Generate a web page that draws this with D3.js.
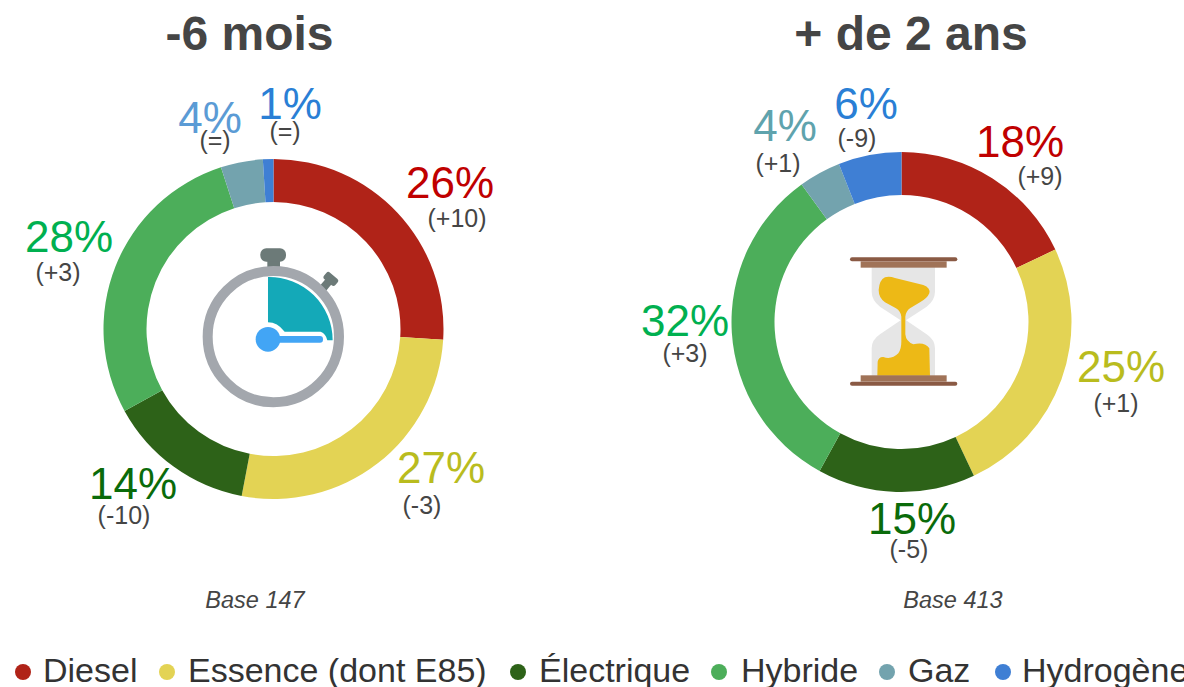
<!DOCTYPE html>
<html lang="fr"><head><meta charset="utf-8">
<script src="https://cdn.jsdelivr.net/npm/d3@7"></script>
<style>html,body{margin:0;padding:0;background:#fff;overflow:hidden}svg{display:block;font-family:"Liberation Sans",Arial,sans-serif}</style>
</head><body><svg id="c" width="1184" height="687"></svg>
<script>
const categories=["Diesel","Essence (dont E85)","Électrique","Hybride","Gaz","Hydrogène"];
const sliceColors=["#b02318","#e3d354","#2d6218","#4cae5a","#73a3ae","#3f7fd4"];
const titles=["-6 mois","+ de 2 ans"];
const bases=["Base 147","Base 413"];
const valuesShort=[26,27,14,28,4,1];
const valuesLong=[18,25,15,32,4,6];
const deltasShort=["(+10)","(-3)","(-10)","(+3)","(=)","(=)"];
const deltasLong=["(+9)","(+1)","(-5)","(+3)","(+1)","(-9)"];
const labelColorsShort=["#c00000","#b9bc1e","#0a6b0a","#00b050","#5b9bd5","#2a7fd5"];
const labelColorsLong=["#c00000","#b9bc1e","#0a6b0a","#00b050","#5fa3ad","#2a7fd5"];

// layout only
const panels=[
 {cx:273.5,cy:329,tx:249.5,bx:255,
  pct:[[450,198],[441,483],[133,499],[69,252],[210,133],[290,119]],
  del:[[457,227],[422,514],[124,524],[58,281],[215,149],[285,140]],
  values:valuesShort,deltas:deltasShort,colors:labelColorsShort},
 {cx:901.5,cy:322,tx:911,bx:953,
  pct:[[1020,157],[1121,382],[912,534],[685,336],[785,141],[866,119]],
  del:[[1040,185],[1116,412],[909,558],[685,362],[778,172],[857,147]],
  values:valuesLong,deltas:deltasLong,colors:labelColorsLong}
];
const svg=d3.select("#c");
const pie=d3.pie().sort(null);
const arc=d3.arc().innerRadius(127).outerRadius(170);
const ink="#454545";

panels.forEach((p,i)=>{
  svg.append("text").attr("x",p.tx).attr("y",50).attr("text-anchor","middle")
    .attr("font-size",48).attr("font-weight",700).attr("fill",ink).text(titles[i]);
  svg.append("g").attr("transform",`translate(${p.cx},${p.cy})`)
    .selectAll("path").data(pie(p.values)).join("path")
    .attr("d",arc).attr("fill",(d,j)=>sliceColors[j]);
  svg.append("g").selectAll("text").data(p.values).join("text")
    .attr("x",(d,j)=>p.pct[j][0]).attr("y",(d,j)=>p.pct[j][1])
    .attr("text-anchor","middle").attr("font-size",44)
    .attr("fill",(d,j)=>p.colors[j]).text(d=>d+"%");
  svg.append("g").selectAll("text").data(p.deltas).join("text")
    .attr("x",(d,j)=>p.del[j][0]).attr("y",(d,j)=>p.del[j][1])
    .attr("text-anchor","middle").attr("font-size",25)
    .attr("fill",ink).text(d=>d);
  svg.append("text").attr("x",p.bx).attr("y",608).attr("text-anchor","middle")
    .attr("font-size",23.5).attr("font-style","italic").attr("fill",ink).text(bases[i]);
});

// stopwatch icon (reference zoom coordinates)
const w=svg.append("g").attr("transform","translate(190,235) scale(0.3333)");
w.append("rect").attr("x",232).attr("y",70).attr("width",38).attr("height",30).attr("fill","#6c7a78");
w.append("rect").attr("x",211).attr("y",40).attr("width",77).attr("height",40).attr("rx",18).attr("fill","#6c7a78");
w.append("g").attr("transform","rotate(40 420 135)").call(g=>{
  g.append("rect").attr("x",408).attr("y",140).attr("width",24).attr("height",30).attr("fill","#6c7a78");
  g.append("rect").attr("x",398).attr("y",118).attr("width",44).attr("height",26).attr("rx",8).attr("fill","#6c7a78");
});
w.append("circle").attr("cx",250).attr("cy",305).attr("r",197).attr("fill","#fff").attr("stroke","#a3a7ad").attr("stroke-width",30);
w.append("path").attr("d","M234,126 A190,190 0 0 1 428,316 L412,316 Q408,296 392,290 L284,290 Q262,262 234,262 Z").attr("fill","#14a9b8");
w.append("rect").attr("x",234).attr("y",303).attr("width",165).attr("height",20).attr("rx",9).attr("fill","#42a5f5");
w.append("circle").attr("cx",234).attr("cy",313).attr("r",37).attr("fill","#42a5f5");

// hourglass icon (reference zoom coordinates)
const h=svg.append("g").attr("transform","translate(830,245) scale(0.3333)");
h.append("path").attr("d","M125,66 L125,140 Q125,165 150,185 L212,226 L150,268 Q125,285 125,310 L125,392 L315,392 L315,310 Q315,285 290,268 L228,226 L290,185 Q315,165 315,140 L315,66 Z").attr("fill","#e6e6e6");
h.append("path").attr("d","M165,97 Q178,93 195,99 L280,120 Q302,128 298,145 Q292,160 270,172 L240,190 Q228,198 226,215 L226,268 Q228,290 250,298 Q285,290 298,310 L300,392 L142,392 L143,350 Q146,335 160,336 Q185,345 205,325 Q214,312 214,290 L214,215 Q212,198 198,190 L165,172 Q146,158 146,135 Q148,105 165,97 Z").attr("fill","#edb916");
[[92,49,258,19,"#a07358"],[92,391,258,19,"#a07358"]].forEach(r=>h.append("rect").attr("x",r[0]).attr("y",r[1]).attr("width",r[2]).attr("height",r[3]).attr("fill",r[4]));
[[60,37],[60,410]].forEach(r=>h.append("rect").attr("x",r[0]).attr("y",r[1]).attr("width",322).attr("height",12).attr("rx",6).attr("fill","#8a5a44"));

// legend
const legendDotX=[23,167,518,719,887,1003];
const legendTextX=[43,188,539,741,908,1022];
const legend=svg.append("g");
legend.selectAll("circle").data(categories).join("circle")
  .attr("cx",(d,i)=>legendDotX[i]).attr("cy",672).attr("r",8).attr("fill",(d,i)=>sliceColors[i]);
legend.selectAll("text").data(categories).join("text")
  .attr("x",(d,i)=>legendTextX[i]).attr("y",682).attr("font-size",34).attr("fill","#333").text(d=>d);
</script></body></html>
